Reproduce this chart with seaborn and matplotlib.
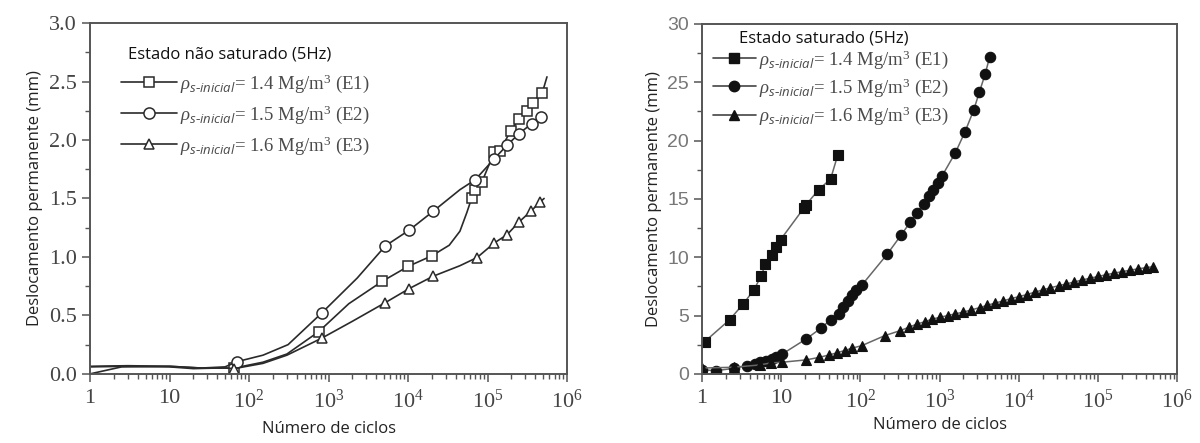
import numpy as np
import pandas as pd
import seaborn as sns
import matplotlib.pyplot as plt
from matplotlib.ticker import FixedLocator, LogLocator, MultipleLocator, NullFormatter
from matplotlib.lines import Line2D

# Estado nao saturado (5Hz)
e1_x = [1, 3, 10, 20, 40, 65, 150, 300, 750, 1800, 4700, 10100, 20000, 33000, 45000, 55000,
        63000, 70000, 85000, 122000, 144000, 196000, 250000, 313000, 369000, 487000, 560000]
e1_y = [0.06, 0.065, 0.06, 0.045, 0.05, 0.05, 0.10, 0.17, 0.36, 0.60, 0.79, 0.92, 1.01, 1.10, 1.22, 1.38,
        1.50, 1.575, 1.64, 1.90, 1.91, 2.08, 2.18, 2.25, 2.32, 2.40, 2.54]
e1_marks = [5, 8, 10, 11, 12, 16, 17, 18, 19, 20, 21, 22, 23, 24, 25]

e2_x = [1, 2.5, 10, 25, 50, 71, 150, 310, 820, 2300, 5200, 10400, 20700, 45000, 70000,
        122000, 176000, 250000, 360000, 470000]
e2_y = [0.0, 0.06, 0.065, 0.05, 0.06, 0.105, 0.16, 0.25, 0.52, 0.82, 1.095, 1.23, 1.39, 1.575, 1.66,
        1.84, 1.955, 2.055, 2.14, 2.195]
e2_marks = [5, 8, 10, 11, 12, 14, 15, 16, 17, 18, 19]

e3_x = [1, 3, 10, 25, 50, 65, 150, 300, 820, 2000, 5200, 10400, 20700, 45000, 74000,
        122000, 176000, 250000, 350000, 460000, 515000]
e3_y = [0.065, 0.07, 0.065, 0.05, 0.05, 0.045, 0.09, 0.16, 0.305, 0.45, 0.61, 0.73, 0.835, 0.925, 0.995,
        1.12, 1.19, 1.30, 1.39, 1.47, 1.50]
e3_marks = [5, 8, 10, 11, 12, 14, 15, 16, 17, 18, 19]

# Estado saturado (5Hz)
s1_x = [1.08, 2.23, 3.3, 4.5, 5.6, 6.3, 7.6, 8.65, 9.8, 19.5, 20.6, 29.8, 42, 52]
s1_y = [2.76, 4.64, 5.98, 7.18, 8.4, 9.4, 10.17, 10.9, 11.5, 14.25, 14.5, 15.8, 16.7, 18.8]

s2_x = [1.0, 1.5, 2.57, 3.67, 4.7, 5.4, 6.4, 7.6, 8.7, 10.3, 20.6, 31.5, 42, 53.6, 60.6, 70, 78, 89, 104,
        218, 325, 425, 515, 630, 725, 830, 955, 1070, 1580, 2090, 2690, 3180, 3760, 4300]
s2_y = [0.35, 0.28, 0.48, 0.71, 0.85, 1.0, 1.14, 1.28, 1.42, 1.7, 2.99, 3.9, 4.64, 5.13, 5.7, 6.27, 6.75, 7.2, 7.6,
        10.26, 11.88, 13.0, 13.8, 14.6, 15.24, 15.8, 16.4, 16.95, 18.95, 20.74, 22.6, 24.16, 25.7, 27.2]

s3_x = [1.0, 2.5, 5.4, 7.4, 10.3, 20.6, 30.4, 40, 50, 63, 78, 104, 203, 315, 410, 515, 650, 805,
        1000, 1260, 1580, 2000, 2500, 3200, 4000, 5000, 6300, 7900, 10000, 12600, 15800, 20000,
        25000, 32000, 40000, 50000, 63000, 79000, 100000, 126000, 158000, 200000, 251000, 316000,
        398000, 501000]
s3_y = [0.5, 0.57, 0.77, 0.94, 1.0, 1.2, 1.42, 1.62, 1.8, 2.0, 2.2, 2.42, 3.28, 3.7, 4.0, 4.27, 4.47, 4.7,
        4.84, 5.0, 5.15, 5.3, 5.48, 5.68, 5.88, 6.07, 6.25, 6.45, 6.62, 6.8, 7.0, 7.2,
        7.38, 7.56, 7.72, 7.88, 8.05, 8.2, 8.35, 8.5, 8.63, 8.76, 8.88, 9.0,
        9.1, 9.2]

legend_labels = [r"$\rho_{\mathsf{s}\text{-}\mathsf{inicial}}$= 1.4 Mg/m$^3$ (E1)",
                 r"$\rho_{\mathsf{s}\text{-}\mathsf{inicial}}$= 1.5 Mg/m$^3$ (E2)",
                 r"$\rho_{\mathsf{s}\text{-}\mathsf{inicial}}$= 1.6 Mg/m$^3$ (E3)"]
xtick_vals = [1, 10, 100, 1e3, 1e4, 1e5, 1e6]
xtick_labels = ['1', '10', '$10^2$', '$10^3$', '$10^4$', '$10^5$', '$10^6$']

sns.set_theme(style='ticks')
plt.rcParams['font.family'] = ['Liberation Serif', 'DejaVu Serif']
plt.rcParams['mathtext.fontset'] = 'custom'
plt.rcParams['mathtext.rm'] = 'Liberation Serif'
plt.rcParams['mathtext.it'] = 'Liberation Serif:italic'
plt.rcParams['mathtext.sf'] = 'Open Sans:italic'

fig = plt.figure(figsize=(12, 4.43), dpi=100)
ax1 = fig.add_axes([0.075, 0.156, 0.3975, 0.792])
ax2 = fig.add_axes([0.585, 0.156, 0.396, 0.790])

# left panel: open markers
open_kw = dict(color='#2a2a2a', linewidth=1.2, markerfacecolor='white', markeredgecolor='#2a2a2a',
               markeredgewidth=1.1, errorbar=None, legend=False)
sns.lineplot(x=e1_x, y=e1_y, ax=ax1, marker='s', markersize=7, markevery=e1_marks, **open_kw)
sns.lineplot(x=e2_x, y=e2_y, ax=ax1, marker='o', markersize=8, markevery=e2_marks, **open_kw)
sns.lineplot(x=e3_x, y=e3_y, ax=ax1, marker='^', markersize=7, markevery=e3_marks, **open_kw)

# right panel: filled markers
fill_kw = dict(color='#666666', linewidth=1.1, markerfacecolor='#111111', markeredgecolor='#111111',
               markeredgewidth=0.8, errorbar=None, legend=False)
sns.lineplot(x=s1_x, y=s1_y, ax=ax2, marker='s', markersize=7, **fill_kw)
sns.lineplot(x=s2_x, y=s2_y, ax=ax2, marker='o', markersize=7.5, **fill_kw)
sns.lineplot(x=s3_x, y=s3_y, ax=ax2, marker='^', markersize=7.5, **fill_kw)

for ax in (ax1, ax2):
    ax.set_xscale('log')
    ax.set_xlim(1, 1e6)
    ax.xaxis.set_major_locator(FixedLocator(xtick_vals))
    ax.set_xticklabels(xtick_labels)
    ax.xaxis.set_minor_locator(LogLocator(base=10, subs=np.arange(2, 10)))
    ax.xaxis.set_minor_formatter(NullFormatter())
    ax.tick_params(axis='both', which='major', direction='out', length=6, width=1.1,
                   color='#555555', top=False, right=False)
    ax.tick_params(axis='both', which='minor', direction='out', length=3.5, width=1.0,
                   color='#555555', top=False, right=False)
    ax.tick_params(axis='x', labelsize=16, labelcolor='#444444', pad=5)
    for sp in ax.spines.values():
        sp.set_visible(True)
        sp.set_color('#555555')
        sp.set_linewidth(1.4)
    ax.set_xlabel('Número de ciclos', family='Open Sans', fontsize=12, color='#222222')
    ax.set_ylabel('Deslocamento permanente (mm)', family='Open Sans', fontsize=12, color='#222222')

ax1.set_ylim(0, 3.0)
ax1.yaxis.set_major_locator(MultipleLocator(0.5))
ax1.yaxis.set_minor_locator(MultipleLocator(0.25))
ax1.set_yticklabels([f'{v:.1f}' for v in ax1.get_yticks()])
ax1.tick_params(axis='y', labelsize=16, labelcolor='#444444')
ax1.xaxis.labelpad = 6

ax2.set_ylim(0, 30)
ax2.yaxis.set_major_locator(MultipleLocator(5))
ax2.yaxis.set_minor_locator(MultipleLocator(2.5))
ax2.set_yticks([0, 5, 10, 15, 20, 25, 30])
ax2.set_yticklabels(['0', '5', '10', '15', '20', '25', '30'], family='Liberation Sans')
ax2.tick_params(axis='y', labelsize=14, labelcolor='#777777')
ax2.xaxis.labelpad = 3

# legends: titles as plain text, entries as legend
open_handles = [Line2D([], [], color='#2a2a2a', lw=1.2, marker=m, markersize=s, markerfacecolor='white',
                       markeredgecolor='#2a2a2a', markeredgewidth=1.1)
                for m, s in zip(['s', 'o', '^'], [7, 8, 7])]
fill_handles = [Line2D([], [], color='#444444', lw=1.2, marker=m, markersize=s, markerfacecolor='#111111',
                       markeredgecolor='#111111')
                for m, s in zip(['s', 'o', '^'], [7, 7.5, 7])]

leg_kw = dict(loc='upper left', frameon=False, borderpad=0, borderaxespad=0,
              handletextpad=0.15, labelspacing=0.45,
              prop={'family': 'Liberation Serif', 'size': 13.5}, labelcolor='#4a4a4a')
ax1.text(0.08, 0.909, 'Estado não saturado (5Hz)', transform=ax1.transAxes, family='Open Sans',
         fontsize=12, va='center', ha='left', color='#111111')
ax1.legend(open_handles, legend_labels, bbox_to_anchor=(0.065, 0.86), handlelength=3.0, **leg_kw)

ax2.text(0.078, 0.957, 'Estado saturado (5Hz)', transform=ax2.transAxes, family='Open Sans',
         fontsize=12, va='center', ha='left', color='#111111')
ax2.legend(fill_handles, legend_labels, bbox_to_anchor=(0.023, 0.93), handlelength=2.3,
           **dict(leg_kw, labelspacing=0.3))

fig.savefig('out.png', dpi=100)
